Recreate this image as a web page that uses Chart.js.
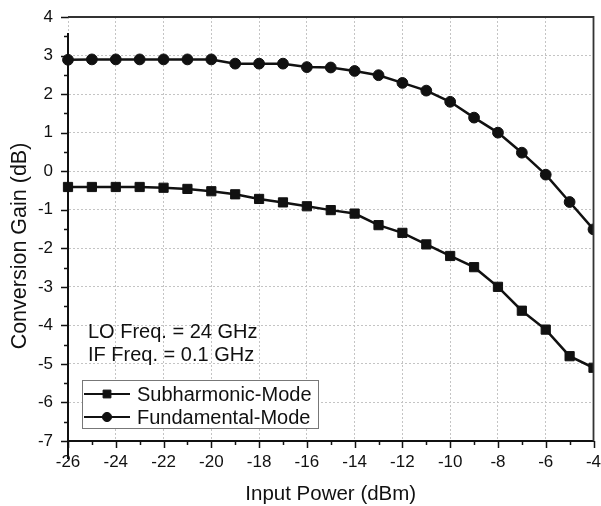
<!DOCTYPE html>
<html><head><meta charset="utf-8">
<script src="https://cdn.jsdelivr.net/npm/chart.js@4.4.0/dist/chart.umd.min.js"></script>
<style>html,body{margin:0;padding:0;background:#fff;}#wrap{width:601px;height:506px;}</style>
</head><body><div id="wrap"><canvas id="c" width="601" height="506"></canvas></div>
<script>
// ---- data ----
const inputPower  = [-26,-25,-24,-23,-22,-21,-20,-19,-18,-17,-16,-15,-14,-13,-12,-11,-10,-9,-8,-7,-6,-5,-4];
const subharmonic = [-0.41,-0.41,-0.41,-0.41,-0.43,-0.46,-0.52,-0.6,-0.72,-0.81,-0.91,-1.01,-1.1,-1.4,-1.6,-1.9,-2.2,-2.49,-3.0,-3.62,-4.11,-4.8,-5.1];
const fundamental = [2.89,2.9,2.9,2.9,2.9,2.9,2.9,2.79,2.79,2.79,2.7,2.69,2.6,2.49,2.29,2.09,1.8,1.39,1.0,0.48,-0.09,-0.8,-1.51];
const xTicks = [-26,-24,-22,-20,-18,-16,-14,-12,-10,-8,-6,-4];
const yTicks = [-7,-6,-5,-4,-3,-2,-1,0,1,2,3,4];
const seriesNames = ['Subharmonic-Mode','Fundamental-Mode'];
const notes = ['LO Freq. = 24 GHz','IF Freq. = 0.1 GHz'];
const xTitle = 'Input Power (dBm)';
const yTitle = 'Conversion Gain (dB)';

const FONT = "'Liberation Sans', Arial, Helvetica, sans-serif";
Chart.defaults.font.family = FONT;
Chart.defaults.color = '#111';

const ink = '#111';

const clipPlugin = {
  id: 'clipRight',
  afterLayout(chart) {
    // shift the y-title centre slightly downward, like the original
    const y = chart.scales.y;
    y.top += 17; y.bottom += 17;
  },
  beforeDatasetsDraw(chart) {
    const {ctx, chartArea: a} = chart;
    ctx.save();
    ctx.beginPath();
    ctx.rect(0, 0, a.right, chart.height);
    ctx.clip();
  },
  afterDatasetsDraw(chart) { chart.ctx.restore(); }
};

const framePlugin = {
  id: 'frame',
  afterDraw(chart) {
    const {ctx, chartArea: a, scales: {x, y}} = chart;
    ctx.save();
    // minor/major ticks
    ctx.strokeStyle = ink;
    ctx.lineWidth = 1.5;
    ctx.beginPath();
    for (let v = x.min; v <= x.max + 1e-9; v += 1) {
      const px = Math.round(x.getPixelForValue(v)) + 0.5;
      const major = xTicks.includes(v);
      ctx.moveTo(px, a.bottom);
      ctx.lineTo(px, a.bottom + (major ? 7 : 4));
    }
    for (let v = y.min; v <= y.max + 1e-9; v += 0.5) {
      const py = Math.round(y.getPixelForValue(v)) + 0.5;
      const major = yTicks.includes(v);
      ctx.moveTo(a.left, py);
      ctx.lineTo(a.left - (major ? 7 : 4), py);
    }
    ctx.stroke();
    // top & right frame
    ctx.lineWidth = 1.8;
    ctx.strokeStyle = '#333';
    ctx.beginPath();
    ctx.moveTo(a.left, a.top);
    ctx.lineTo(a.right, a.top);
    ctx.lineTo(a.right, a.bottom);
    ctx.stroke();

    // annotations
    ctx.fillStyle = '#111';
    ctx.font = '20px ' + FONT;
    ctx.textBaseline = 'middle';
    ctx.textAlign = 'left';
    notes.forEach((t, i) => ctx.fillText(t, a.left + 20, a.bottom - 109 + i * 23));

    // legend
    const bx = a.left + 14, by = a.bottom - 61, bw = 236, bh = 48;
    ctx.fillStyle = '#fff';
    ctx.fillRect(bx, by, bw, bh);
    ctx.strokeStyle = '#777';
    ctx.lineWidth = 1;
    ctx.strokeRect(bx + 0.5, by + 0.5, bw, bh);
    chart.data.datasets.forEach((ds, i) => {
      const cy = by + 14 + i * 23;
      ctx.strokeStyle = ds.borderColor;
      ctx.lineWidth = 2;
      ctx.beginPath();
      ctx.moveTo(bx + 2, cy);
      ctx.lineTo(bx + 48, cy);
      ctx.stroke();
      ctx.fillStyle = ds.backgroundColor;
      ctx.lineWidth = 1;
      Chart.helpers.drawPoint(ctx, {pointStyle: ds.pointStyle, radius: ds.pointRadius * 0.85, borderWidth: 1, rotation: 0}, bx + 25, cy);
      ctx.fillStyle = '#111';
      ctx.font = '20px ' + FONT;
      ctx.textBaseline = 'middle';
      ctx.fillText(ds.label, bx + 55, cy + 1);
    });
    ctx.restore();
  }
};

const mk = (vals) => inputPower.map((p, i) => ({x: p, y: vals[i]}));

new Chart(document.getElementById('c'), {
  type: 'line',
  data: {
    datasets: [
      {label: seriesNames[0], data: mk(subharmonic), borderColor: ink, backgroundColor: ink,
       pointStyle: 'rect', pointRadius: 6.5, pointHoverRadius: 6.5, borderWidth: 2.5, pointBorderWidth: 1, tension: 0, clip: false},
      {label: seriesNames[1], data: mk(fundamental), borderColor: ink, backgroundColor: ink,
       pointStyle: 'circle', pointRadius: 5.4, pointHoverRadius: 5.4, borderWidth: 2.5, pointBorderWidth: 1, tension: 0, clip: false}
    ]
  },
  options: {
    responsive: false,
    animation: false,
    devicePixelRatio: 1,
    layout: {padding: {top: 17, right: 5, left: 0, bottom: 0}},
    plugins: {legend: {display: false}, tooltip: {enabled: false}},
    scales: {
      x: {
        type: 'linear', min: -26, max: -4,
        afterFit: s => { s.height = 65; s.paddingLeft = 0; s.paddingRight = 0; },
        afterBuildTicks: s => { s.ticks = xTicks.map(v => ({value: v})); },
        ticks: {font: {size: 17}, color: '#111', padding: 11, maxRotation: 0, autoSkip: false},
        grid: {color: '#c4c4c4', lineWidth: 1, drawTicks: false},
        border: {color: ink, width: 2, dash: [2, 2]},
        title: {display: true, text: xTitle, font: {size: 20.5, lineHeight: 1}, color: '#111', padding: {top: 0, bottom: 1}}
      },
      y: {
        type: 'linear', min: -7, max: 4,
        afterFit: s => { s.width = 68; s.paddingTop = 0; s.paddingBottom = 0; },
        afterBuildTicks: s => { s.ticks = yTicks.map(v => ({value: v})); },
        ticks: {font: {size: 17}, color: '#111', padding: 15, autoSkip: false},
        grid: {color: '#c4c4c4', lineWidth: 1, drawTicks: false},
        border: {color: ink, width: 2, dash: [2, 2]},
        title: {display: true, text: yTitle, font: {size: 21.5, lineHeight: 1}, color: '#111', padding: {top: 9, bottom: 0}}
      }
    }
  },
  plugins: [clipPlugin, framePlugin]
});
</script></body></html>
